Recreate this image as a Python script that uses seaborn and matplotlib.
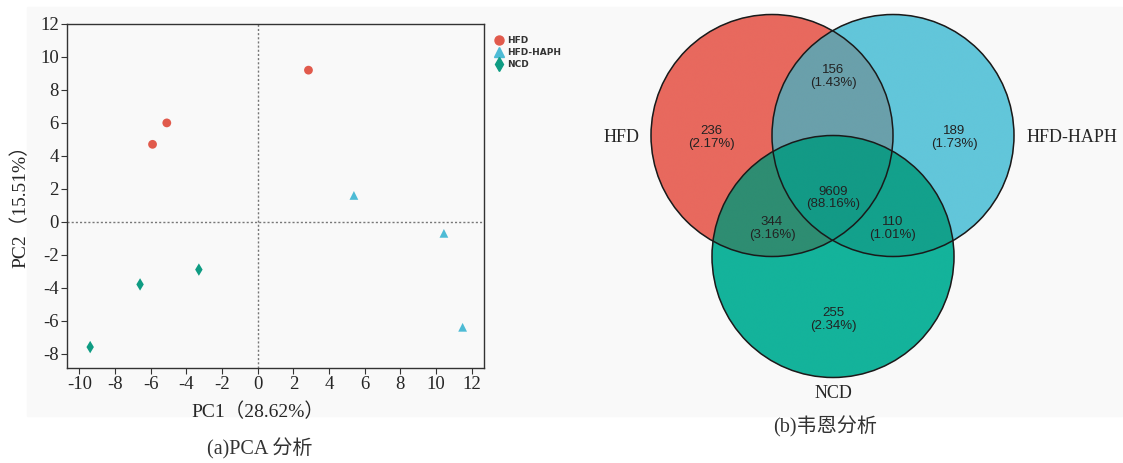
import numpy as np
import pandas as pd
import matplotlib
matplotlib.use("Agg")
import matplotlib.pyplot as plt
import seaborn as sns
from matplotlib.patches import Circle, Rectangle
from matplotlib.colors import to_rgba
from matplotlib.lines import Line2D

# PCA 数据
groups = ["HFD", "HFD-HAPH", "NCD"]
sample_group = ["HFD", "HFD", "HFD",
                "HFD-HAPH", "HFD-HAPH", "HFD-HAPH",
                "NCD", "NCD", "NCD"]
pc1 = [-5.9, -5.1, 2.85, 5.4, 10.45, 11.5, -9.4, -6.6, -3.3]
pc2 = [4.7, 6.0, 9.2, 1.6, -0.7, -6.4, -7.6, -3.8, -2.9]
x_ticks = [-10, -8, -6, -4, -2, 0, 2, 4, 6, 8, 10, 12]
y_ticks = [-8, -6, -4, -2, 0, 2, 4, 6, 8, 10, 12]

# 韦恩图数据  (HFD, HAPH, NCD 的组合)
venn_regions = ["100", "010", "110", "001", "101", "011", "111"]
venn_counts = [236, 189, 156, 255, 344, 110, 9609]
venn_pct = ["2.17%", "1.73%", "1.43%", "2.34%", "3.16%", "1.01%", "88.16%"]

point_colors = {"HFD": "#e15a4c", "HFD-HAPH": "#4dbbd5", "NCD": "#0f9c83"}
point_markers = {"HFD": "o", "HFD-HAPH": "^", "NCD": "d"}
region_colors = {1: "#e8695e", 2: "#62c6da", 3: "#6aa0ab", 4: "#14b39b",
                 5: "#2e8d72", 6: "#13a18c", 7: "#139a86"}

sns.set_style("white")
serif = ["Liberation Serif", "Noto Sans CJK SC"]
plt.rcParams["font.family"] = ["Liberation Serif", "Noto Sans CJK SC", "DejaVu Sans"]
plt.rcParams["axes.unicode_minus"] = False

W, H = 1123, 463
fig = plt.figure(figsize=(W / 100, H / 100), dpi=100)

def fx(px):
    return px / W

def fy(py):
    return 1 - py / H

# 浅灰背景
fig.patches.append(Rectangle((fx(27), fy(416)), fx(1122) - fx(27), fy(7) - fy(416),
                             transform=fig.transFigure, color="#f9f9f9", zorder=-10))

# ---------- (a) PCA ----------
ax = fig.add_axes([fx(67), fy(368), fx(484) - fx(67), fy(24) - fy(368)])
ax.set_facecolor("#f9f9f9")
df = pd.DataFrame({"group": sample_group, "PC1": pc1, "PC2": pc2})
sns.scatterplot(data=df, x="PC1", y="PC2", hue="group", style="group",
                hue_order=groups, style_order=groups,
                palette=point_colors, markers=point_markers, s=40,
                edgecolor="none", legend=False, ax=ax, zorder=3)
ax.axvline(0, color="#777777", ls=(0, (1.5, 1.5)), lw=1, zorder=1)
ax.axhline(0, color="#777777", ls=(0, (1.5, 1.5)), lw=1, zorder=1)
ax.set_xlim(-10.7, 12.7)
ax.set_ylim(-8.87, 12)
ax.set_xticks(x_ticks)
ax.set_yticks(y_ticks)
ax.tick_params(direction="out", length=4, width=0.8, color="#333333",
               labelsize=13.5, pad=2, left=True, bottom=True)
for lab in ax.get_xticklabels() + ax.get_yticklabels():
    lab.set_fontfamily(serif)
for sp in ax.spines.values():
    sp.set_color("#333333")
    sp.set_linewidth(1)
ax.set_xlabel("")
ax.set_ylabel("")
fig.text(fx(258), fy(412), "PC1（28.62%）", ha="center", va="center",
         fontsize=14, family=serif)
fig.text(fx(20), fy(202), "PC2（15.51%）", ha="center", va="center",
         fontsize=14, family=serif, rotation=90)

handles = [Line2D([], [], ls="", marker=point_markers[g], color=point_colors[g],
                  markersize=6.5 if g != "NCD" else 7) for g in groups]
leg = fig.legend(handles, groups, loc="upper left",
                 bbox_to_anchor=(fx(487), fy(28)), frameon=False,
                 handlelength=0.8, handletextpad=0.5, labelspacing=0.35,
                 prop={"family": "DejaVu Sans", "size": 6.5, "weight": "bold"})
for t in leg.get_texts():
    t.set_color("#333333")

fig.text(fx(260), fy(449), "(a)PCA 分析", ha="center", va="center",
         fontsize=14.5, family=serif, color="#333333")

# ---------- (b) 韦恩图 ----------
vx0, vx1, vy0, vy1 = 580, 1122, 7, 416
ax2 = fig.add_axes([fx(vx0), fy(vy1), fx(vx1) - fx(vx0), fy(vy0) - fy(vy1)])

centers = [(772, 135.5), (893, 135.5), (833, 256.5)]
radius = 121

xs = np.linspace(vx0, vx1, 1600)
ys = np.linspace(vy0, vy1, 1200)
gx, gy = np.meshgrid(xs, ys)
code = np.zeros(gx.shape, dtype=int)
for i, (cx, cy) in enumerate(centers):
    code += ((gx - cx) ** 2 + (gy - cy) ** 2 <= radius ** 2).astype(int) << i
img = np.zeros(gx.shape + (4,))
for k, c in region_colors.items():
    img[code == k] = to_rgba(c)
ax2.imshow(img, extent=(vx0, vx1, vy1, vy0), origin="upper",
           interpolation="bilinear", zorder=1)
ax2.set_xlim(vx0, vx1)
ax2.set_ylim(vy1, vy0)
ax2.axis("off")
for cx, cy in centers:
    ax2.add_patch(Circle((cx, cy), radius, fill=False, ec="#1a1a1a", lw=1.1, zorder=2))

# 各区域文字位置
text_pos = {"100": (711.5, 137.5), "010": (954, 137.5), "110": (833, 76.5),
            "001": (833, 319.5), "101": (772, 228.5), "011": (893, 228.5),
            "111": (833, 198)}
for r, n, p in zip(venn_regions, venn_counts, venn_pct):
    tx, ty = text_pos[r]
    ax2.text(tx, ty, f"{n}\n({p})", ha="center", va="center", fontsize=9.5,
             family="Liberation Sans", color="#222222", linespacing=1.1, zorder=3)

ax2.text(621.5, 137.5, "HFD", ha="center", va="center", fontsize=13, family=serif)
ax2.text(1071.5, 137.5, "HFD-HAPH", ha="center", va="center", fontsize=13, family=serif)
ax2.text(833, 393, "NCD", ha="center", va="center", fontsize=13, family=serif)

fig.text(fx(825), fy(427), "(b)韦恩分析", ha="center", va="center",
         fontsize=14.5, family=serif, color="#333333")

fig.savefig("out.png", dpi=100, facecolor="white")
